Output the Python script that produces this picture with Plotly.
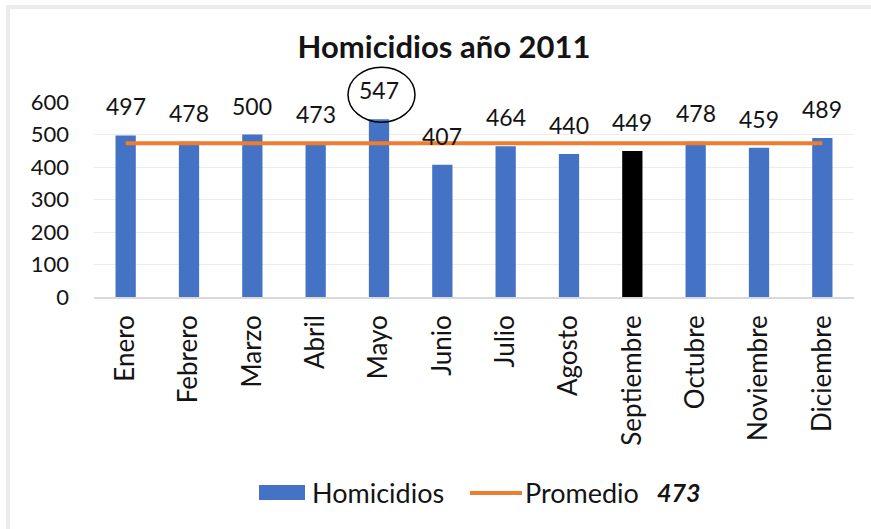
import plotly.graph_objects as go

meses = ["Enero", "Febrero", "Marzo", "Abril", "Mayo", "Junio", "Julio",
         "Agosto", "Septiembre", "Octubre", "Noviembre", "Diciembre"]
homicidios = [497, 478, 500, 473, 547, 407, 464, 440, 449, 478, 459, 489]
promedio = 473
destacado = "Septiembre"
maximo = "Mayo"
y_max = 600

AZUL = "#4472C4"
NARANJA = "#ED7D31"
TXT = "#141414"
FONT = "Lato"

W, H = 871, 529
PL, PR, PT, PB = 94, 854, 102, 297  # plot area in page pixels


def px(x):
    return (x - PL) / (PR - PL)


def py(y):
    return (PB - y) / (PB - PT)


colores = ["#000000" if m == destacado else AZUL for m in meses]

fig = go.Figure()
fig.add_trace(go.Bar(
    x=meses, y=homicidios, name="Homicidios",
    marker=dict(color=colores, line=dict(width=0)),
    width=0.32, showlegend=False,
))
fig.add_trace(go.Scatter(
    x=meses, y=[promedio] * len(meses), mode="lines",
    name="Promedio", showlegend=False,
    line=dict(color=NARANJA, width=4),
))

for m, v in zip(meses, homicidios):
    fig.add_annotation(x=m, y=v, text=str(v), showarrow=False,
                       yshift=29, font=dict(size=23, color=TXT, family=FONT))

# circle highlighting the maximum (paper y so it is not clipped by the plot area)
i_max = meses.index(maximo)
fig.add_shape(type="circle", xref="x", yref="paper",
              xsizemode="pixel", ysizemode="pixel",
              xanchor=i_max, yanchor=homicidios[i_max] / y_max,
              x0=-31, x1=36, y0=-3, y1=52,
              line=dict(color="black", width=1.5))

# chart-area border (top and left)
fig.add_shape(type="line", xref="paper", yref="paper",
              x0=px(6), x1=px(W + 5), y0=py(7), y1=py(7),
              line=dict(color="#ebebeb", width=4))
fig.add_shape(type="line", xref="paper", yref="paper",
              x0=px(8), x1=px(8), y0=py(W), y1=py(5),
              line=dict(color="#ebebeb", width=4))

# legend
fig.add_shape(type="rect", xref="paper", yref="paper",
              x0=px(259), x1=px(305), y0=py(500), y1=py(485),
              fillcolor=AZUL, line=dict(width=0))
fig.add_annotation(xref="paper", yref="paper", x=px(310), y=py(492),
                   xanchor="left", yanchor="middle", showarrow=False,
                   text="Homicidios", font=dict(size=27, color=TXT, family=FONT))
fig.add_shape(type="line", xref="paper", yref="paper",
              x0=px(470), x1=px(522), y0=py(493), y1=py(493),
              line=dict(color=NARANJA, width=4))
fig.add_annotation(xref="paper", yref="paper", x=px(523), y=py(492),
                   xanchor="left", yanchor="middle", showarrow=False,
                   text="Promedio", font=dict(size=27, color=TXT, family=FONT))
fig.add_annotation(xref="paper", yref="paper", x=px(655), y=py(492),
                   xanchor="left", yanchor="middle", showarrow=False,
                   text="<b><i>%d</i></b>" % promedio,
                   font=dict(size=25, color=TXT, family=FONT))

fig.update_layout(
    width=W, height=H,
    margin=dict(l=PL, r=W - PR, t=PT, b=H - PB),
    paper_bgcolor="white", plot_bgcolor="white",
    font=dict(family=FONT, color=TXT, size=20),
    title=dict(text="<b>Homicidios año 2011</b>", x=px(444), xanchor="center",
               xref="paper", y=1 - 47 / H, yanchor="middle",
               font=dict(size=31, family=FONT, color=TXT)),
    showlegend=False,
    bargap=0.68,
)
fig.update_xaxes(type="category", tickangle=-90, showgrid=False,
                 showline=True, linecolor="#d9d9d9", linewidth=1.5,
                 ticks="", ticklabelstandoff=6,
                 tickfont=dict(size=26, family=FONT, color=TXT))
fig.update_yaxes(range=[0, y_max], dtick=100, showgrid=True, gridcolor="#ececec",
                 gridwidth=1, zeroline=False, showline=False, ticks="",
                 ticklabelstandoff=24,
                 tickfont=dict(size=22, family=FONT, color=TXT))

fig.write_html("out.html",
               config={"displayModeBar": False},
               post_script="document.body.style.margin='0';"
                           "document.body.style.overflow='hidden';")
